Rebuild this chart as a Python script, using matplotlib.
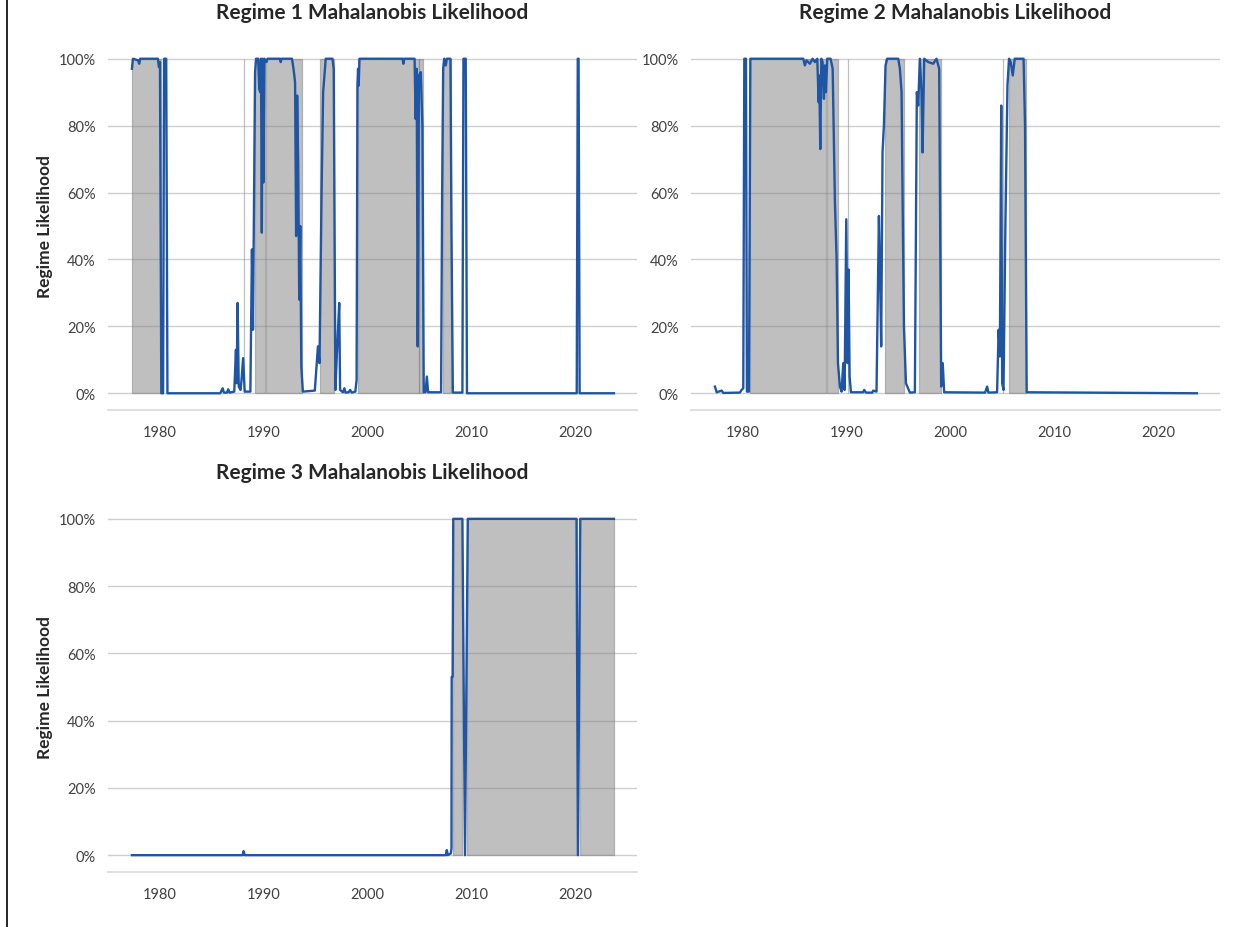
import matplotlib
matplotlib.use('Agg')
import matplotlib.pyplot as plt
from matplotlib.lines import Line2D
from matplotlib.ticker import FuncFormatter

plt.rcParams['font.family'] = ['Lato', 'DejaVu Sans']

# (decimal year, likelihood %)
r1_points = [
    (1977.30, 97), (1977.40, 100), (1977.90, 99.5), (1978.00, 98.5), (1978.10, 100),
    (1979.80, 100), (1979.90, 97.5), (1980.00, 99), (1980.13, 0), (1980.30, 0),
    (1980.40, 100), (1980.60, 100), (1980.72, 0), (1985.80, 0), (1986.03, 1.5),
    (1986.15, 0.2), (1986.45, 0.2), (1986.57, 1.2), (1986.70, 0.2), (1987.15, 0.5),
    (1987.31, 13), (1987.38, 3), (1987.47, 27), (1987.58, 2), (1987.75, 1),
    (1987.85, 4), (1988.00, 10.5), (1988.15, 0.5), (1988.70, 0.5), (1988.85, 43),
    (1988.95, 19), (1989.15, 96), (1989.25, 100), (1989.45, 100), (1989.55, 91),
    (1989.65, 90), (1989.72, 100), (1989.80, 48), (1989.87, 100), (1989.95, 63),
    (1990.05, 100), (1990.25, 99), (1990.35, 100), (1991.55, 100), (1991.62, 99),
    (1991.70, 100), (1992.70, 100), (1992.85, 97), (1993.00, 93), (1993.10, 47),
    (1993.20, 89), (1993.30, 69), (1993.40, 28), (1993.50, 50), (1993.60, 8),
    (1993.75, 0.5), (1994.90, 0.8), (1995.20, 14), (1995.35, 9), (1995.55, 60),
    (1995.70, 90), (1995.95, 100), (1996.60, 100), (1996.72, 97), (1996.88, 1),
    (1997.00, 10), (1997.10, 17), (1997.25, 27), (1997.33, 1), (1997.60, 0.3),
    (1997.75, 1.5), (1997.85, 0.2), (1998.15, 0.3), (1998.30, 1), (1998.45, 0.2),
    (1998.80, 0.5), (1998.92, 4), (1999.00, 92), (1999.06, 97), (1999.12, 92),
    (1999.20, 100), (2003.35, 100), (2003.42, 98.5), (2003.50, 100), (2004.50, 100),
    (2004.60, 82), (2004.70, 97), (2004.80, 14), (2004.92, 95), (2005.10, 96),
    (2005.25, 80), (2005.38, 0.3), (2005.55, 0.3), (2005.68, 5), (2005.80, 0.3),
    (2007.05, 0.3), (2007.15, 60), (2007.25, 97), (2007.35, 100), (2007.50, 98),
    (2007.60, 100), (2007.95, 100), (2008.05, 48), (2008.18, 0.2), (2009.10, 0.2),
    (2009.20, 100), (2009.42, 100), (2009.54, 0), (2020.10, 0), (2020.20, 100),
    (2020.28, 100), (2020.38, 0), (2023.68, 0),
]
r2_points = [
    (1977.30, 2), (1977.47, 0.3), (1977.95, 0.8), (1978.10, 0.1), (1979.70, 0.2),
    (1979.87, 1), (1980.03, 1.5), (1980.13, 100), (1980.29, 100), (1980.38, 0.5),
    (1980.58, 0.5), (1980.71, 100), (1985.80, 100), (1985.96, 98), (1986.12, 99.5),
    (1986.44, 98.5), (1986.70, 100), (1986.92, 99), (1987.15, 100), (1987.28, 87),
    (1987.34, 95), (1987.44, 73), (1987.54, 100), (1987.66, 99), (1987.79, 88),
    (1987.89, 98), (1987.98, 90), (1988.11, 100), (1988.43, 100), (1988.63, 97),
    (1988.85, 57), (1989.01, 40), (1989.14, 9), (1989.33, 2), (1989.49, 0.5),
    (1989.65, 9), (1989.78, 1), (1989.94, 52), (1990.07, 9), (1990.16, 37),
    (1990.26, 5), (1990.39, 0.3), (1991.55, 0.3), (1991.67, 1), (1991.83, 0.2),
    (1992.45, 0.2), (1992.53, 0.8), (1992.85, 0.5), (1993.08, 53), (1993.21, 32),
    (1993.30, 14), (1993.43, 72), (1993.56, 80), (1993.72, 98), (1993.88, 100),
    (1994.94, 100), (1995.10, 97), (1995.26, 90), (1995.36, 58), (1995.49, 20),
    (1995.68, 3), (1996.06, 0.2), (1996.54, 0.3), (1996.73, 90), (1996.86, 86),
    (1997.02, 100), (1997.18, 90), (1997.28, 72), (1997.44, 100), (1997.82, 99),
    (1998.30, 98.5), (1998.62, 100), (1998.88, 97), (1999.07, 2), (1999.22, 9),
    (1999.36, 0.3), (2003.30, 0.2), (2003.49, 2), (2003.62, 0.2), (2004.45, 0.3),
    (2004.60, 19), (2004.72, 11), (2004.85, 86), (2004.94, 3), (2005.07, 1),
    (2005.25, 50), (2005.45, 92), (2005.60, 100), (2005.76, 99), (2005.96, 95),
    (2006.15, 100), (2007.00, 100), (2007.14, 80), (2007.30, 0.3), (2023.68, 0),
]
r3_points = [
    (1977.30, 0), (1987.95, 0), (1988.05, 1.2), (1988.15, 0), (2007.50, 0),
    (2007.60, 1.5), (2007.70, 0), (2007.98, 0.5), (2008.05, 2), (2008.07, 53),
    (2008.16, 53), (2008.22, 100), (2009.10, 100), (2009.35, 0), (2009.62, 100),
    (2020.08, 100), (2020.22, 0), (2020.44, 100), (2023.68, 100),
]

# shaded periods where the regime is assigned (start, end)
r1_spans = [(1977.35, 1980.10), (1988.05, 1988.05), (1989.15, 1990.10),
            (1990.20, 1993.65), (1995.40, 1996.75), (1999.10, 2004.90),
            (2004.95, 2005.35), (2007.20, 2008.00)]
r2_spans = [(1980.72, 1987.98), (1988.10, 1989.10), (1990.07, 1990.07),
            (1993.70, 1995.50), (1996.95, 1999.07), (2004.98, 2004.98),
            (2005.55, 2007.25)]
r3_spans = [(2008.18, 2009.10), (2009.52, 2020.15), (2020.42, 2023.70)]

titles = ['Regime 1 Mahalanobis Likelihood', 'Regime 2 Mahalanobis Likelihood',
          'Regime 3 Mahalanobis Likelihood']
x_ticks = [1980, 1990, 2000, 2010, 2020]
y_ticks = [0, 20, 40, 60, 80, 100]

fig = plt.figure(figsize=(12.52, 9.28), dpi=100)
boxes = [
    [108 / 1252, 517 / 928, 529 / 1252, 368 / 928],
    [691 / 1252, 517 / 928, 529 / 1252, 368 / 928],
    [108 / 1252, 55 / 928, 529 / 1252, 370 / 928],
]
blue = '#1f55a5'

for i, (pts, spans) in enumerate([(r1_points, r1_spans), (r2_points, r2_spans),
                                  (r3_points, r3_spans)]):
    ax = fig.add_axes(boxes[i])
    for s, e in spans:
        ax.fill_between([s, e], 0, 100, facecolor='gray', edgecolor='gray',
                        alpha=0.5, linewidth=0.9, zorder=1)
    xs = [p[0] for p in pts]
    ys = [p[1] for p in pts]
    ax.plot(xs, ys, color=blue, lw=1.7, zorder=3)

    ax.set_xlim(1975.0, 2025.9)
    ax.set_ylim(-5, 105)
    ax.set_xticks(x_ticks)
    ax.set_yticks(y_ticks)
    ax.yaxis.set_major_formatter(FuncFormatter(lambda v, _: f'{v:.0f}%'))
    ax.grid(axis='y', color='#cfcfcf', lw=1)
    ax.set_axisbelow(True)
    for sp in ['left', 'right', 'top']:
        ax.spines[sp].set_visible(False)
    ax.spines['bottom'].set_color('#d9d9d9')
    ax.spines['bottom'].set_linewidth(1.2)
    ax.tick_params(length=0, labelsize=10.5, labelcolor='#404040')
    ax.tick_params(axis='x', pad=11)
    ax.tick_params(axis='y', pad=9)
    ax.set_title(titles[i], fontsize=15, fontweight='bold', color='#262626', pad=17)
    if i != 1:
        ax.set_ylabel('Regime Likelihood', fontsize=12.5, fontweight='bold',
                      color='#262626', labelpad=4)

fig.add_artist(Line2D([6.5 / 1252, 6.5 / 1252], [0, 1], transform=fig.transFigure,
                      color='black', lw=1.2))

fig.savefig('out.png', dpi=100)
